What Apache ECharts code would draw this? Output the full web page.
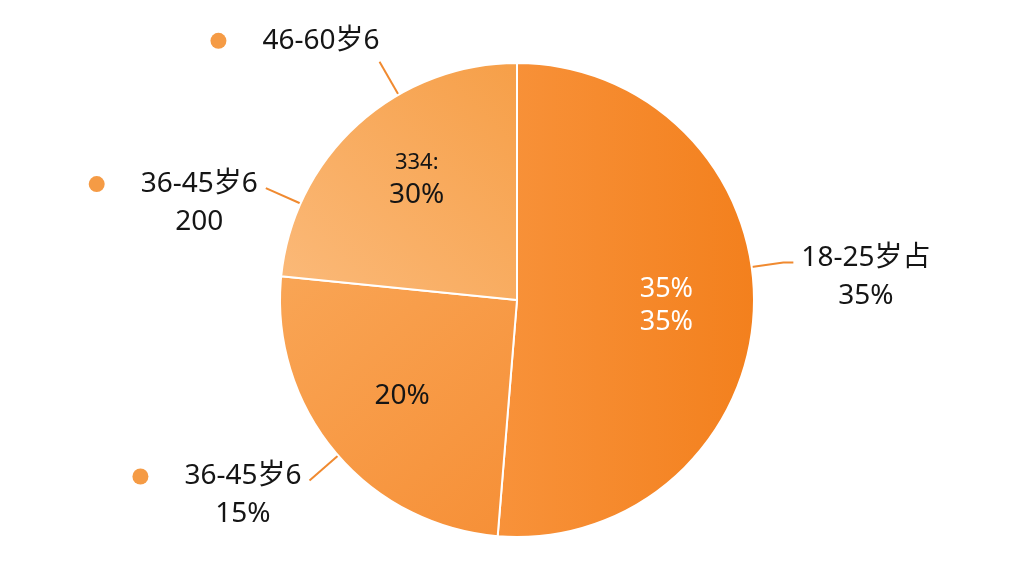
<!DOCTYPE html>
<html><head><meta charset="utf-8">
<script src="https://cdn.jsdelivr.net/npm/echarts@6/dist/echarts.min.js"></script>
<style>html,body{margin:0;background:#fff}#c{width:1024px;height:576px}</style>
</head><body><div id="c"></div>
<script>
// visible slices
const sliceNames = ['18-25岁', '36-45岁', '46-60岁'];
const sliceValues = [51.3, 25.3, 23.4];
const innerLabels = ['35%\n35%', '20%', '334:\n30%'];
// outer callout labels (wedges locate the callouts; empty names are gaps)
const outerNames = ['18-25岁占', '', '36-45岁6', '', '36-45岁6', '46-60岁6', ''];
const outerSub   = ['35%', '', '15%', '', '200', '', ''];
const outerShares = [45.56, 5.75, 24.64, 0.67, 10.17, 9.83, 3.42];

const FONT = "'Noto Sans','Noto Sans CJK SC',sans-serif";
const fills = [
  {type:'linear', x:0, y:0.5, x2:1, y2:0.5, colorStops:[{offset:0,color:'#f8923a'},{offset:1,color:'#f3801d'}]},
  {type:'linear', x:0, y:0, x2:1, y2:1, colorStops:[{offset:0,color:'#f9a555'},{offset:1,color:'#f68f36'}]},
  {type:'linear', x:0, y:1, x2:1, y2:0, colorStops:[{offset:0,color:'#fbba7a'},{offset:1,color:'#f69f48'}]}
];
const CENTER = [517, 300];
const R = 237;

const visData = sliceValues.map((v, i) => ({value: v, name: sliceNames[i], itemStyle: {color: fills[i]}}));
const innerData = sliceValues.map((v, i) => {
  const st = i === 0 ? 'w' : 'd';
  const fmt = innerLabels[i].split('\n').map(l => l.indexOf('%') >= 0 ? `{${st}|${l}}` : `{s|${l}}`).join('\n');
  return {value: v, name: sliceNames[i], label: {formatter: fmt, padding: i === 2 ? [0, 0, 20, 0] : [0, 0, 0, 0]}};
});

let cum = 0;
const outerData = outerShares.map((v, i) => {
  const mid = cum + v / 2; cum += v;
  const name = outerNames[i];
  if (!name) return {value: v, name: 'gap' + i, label: {show: false}, labelLine: {show: false}};
  const right = mid < 50;
  const hasSub = !!outerSub[i];
  const sub = outerSub[i] || ' ';
  const fmt = right ? `{c|${name}}\n{c|${sub}}` : `{dot|}{gap|}{t|${name}}\n{sp|}{c|${sub}}`;
  const item = {value: v, name: name, label: {formatter: fmt, padding: hasSub ? [30, 0, 0, 0] : [0, 0, 4, 0]}};
  if (right) item.labelLine = {length: 32, length2: 10};
  else if (!hasSub) item.label.distanceToLabelLine = 0;
  return item;
});

const chart = echarts.init(document.getElementById('c'));
chart.setOption({
  backgroundColor: '#ffffff',
  animation: false,
  series: [
    {
      type: 'pie', center: CENTER, radius: [0, R], startAngle: 90, clockwise: true,
      silent: true, label: {show: false}, labelLine: {show: false},
      itemStyle: {borderColor: '#ffffff', borderWidth: 2},
      data: visData
    },
    {
      type: 'pie', center: CENTER, radius: [56, R], startAngle: 90, clockwise: true,
      silent: true, itemStyle: {color: 'transparent', borderWidth: 0},
      labelLine: {show: false},
      label: {
        show: true, position: 'inside', fontFamily: FONT,
        rich: {
          w: {color: '#ffffff', fontSize: 27, lineHeight: 33, fontFamily: FONT},
          d: {color: '#151515', fontSize: 28, lineHeight: 32, fontFamily: FONT},
          s: {color: '#151515', fontSize: 22, lineHeight: 32, fontFamily: FONT}
        }
      },
      data: innerData
    },
    {
      type: 'pie', center: CENTER, radius: [0, R], startAngle: 90, clockwise: true,
      silent: true, avoidLabelOverlap: false,
      itemStyle: {color: 'transparent', borderWidth: 0},
      labelLine: {show: true, length: 38, length2: 0, lineStyle: {color: '#f08a30', width: 2}},
      label: {
        show: true, position: 'outside', distanceToLabelLine: 8, fontFamily: FONT,
        rich: {
          dot: {width: 16, height: 16, borderRadius: 8, backgroundColor: '#f59b45', align: 'left', lineHeight: 38},
          gap: {width: 36, align: 'left', lineHeight: 38},
          t: {fontSize: 28, color: '#151515', align: 'left', lineHeight: 38, fontFamily: FONT},
          sp: {width: 52, align: 'left', lineHeight: 38},
          c: {fontSize: 28, color: '#151515', align: 'center', lineHeight: 38, fontFamily: FONT}
        }
      },
      data: outerData
    }
  ]
});
</script></body></html>
